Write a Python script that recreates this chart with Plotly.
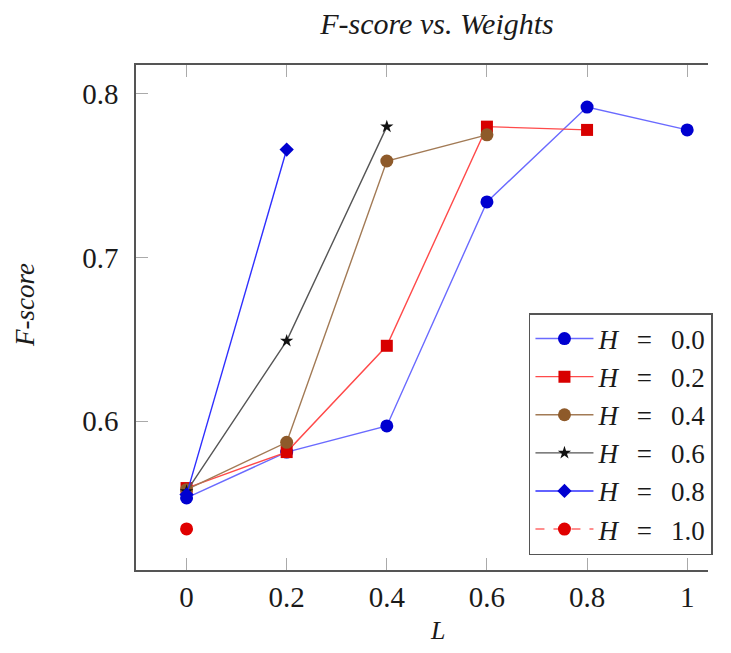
import plotly.graph_objects as go

# Data
L_h00 = [0, 0.2, 0.4, 0.6, 0.8, 1.0]
F_h00 = [0.553, 0.581, 0.597, 0.734, 0.792, 0.778]

L_h02 = [0, 0.2, 0.4, 0.6, 0.8]
F_h02 = [0.559, 0.581, 0.646, 0.780, 0.778]

L_h04 = [0, 0.2, 0.4, 0.6]
F_h04 = [0.558, 0.587, 0.759, 0.775]

L_h06 = [0, 0.2, 0.4]
F_h06 = [0.557, 0.649, 0.780]

L_h08 = [0, 0.2]
F_h08 = [0.555, 0.766]

L_h10 = [0]
F_h10 = [0.534]

SP = "\u2002\u2009"
series_names = [f"<i>H</i>{SP}={SP}0.0", f"<i>H</i>{SP}={SP}0.2", f"<i>H</i>{SP}={SP}0.4",
                f"<i>H</i>{SP}={SP}0.6", f"<i>H</i>{SP}={SP}0.8", f"<i>H</i>{SP}={SP}1.0"]

x_ticks = [0, 0.2, 0.4, 0.6, 0.8, 1.0]
x_tick_labels = ["0", "0.2", "0.4", "0.6", "0.8", "1"]
y_ticks = [0.6, 0.7, 0.8]
y_tick_labels = ["0.6", "0.7", "0.8"]

SERIF = "Liberation Serif"

# page offset (body margin) of the rendered html; keep the page inside the window
OFF = 8
W, H = 731 - 2 * OFF - 4, 653 - 2 * OFF - 1
PL, PT, PR, PB = 136 - OFF, 65 - OFF, W - 6, 570 - OFF  # plot area in figure px
PW, PH = PR - PL, PB - PT

def px_x(ax):  # absolute px -> paper x
    return (ax - OFF - PL) / PW

def px_y(ay):  # absolute px -> paper y
    return (PB - (ay - OFF)) / PH

X0_PX, X_PER_UNIT = 187, 505  # where L=0 sits, px per unit L
x_lo = (136 - X0_PX) / X_PER_UNIT
x_hi = (PR + OFF - X0_PX) / X_PER_UNIT

fig = go.Figure()

styles = [
    (L_h00, F_h00, dict(color="#6a6aff", width=1.4, dash="solid"), dict(symbol="circle", size=13, color="#0000d0")),
    (L_h02, F_h02, dict(color="#ff4a4a", width=1.4, dash="solid"), dict(symbol="square", size=12, color="#d80000")),
    (L_h04, F_h04, dict(color="#a27a55", width=1.4, dash="solid"), dict(symbol="circle", size=13, color="#8e5a2a")),
    (L_h06, F_h06, dict(color="#555555", width=1.4, dash="solid"), dict(symbol="star", size=10, color="#111111")),
    (L_h08, F_h08, dict(color="#2e2eff", width=1.4, dash="solid"), dict(symbol="diamond", size=11, color="#0000d0")),
    (L_h10, F_h10, dict(color="#ff6a6a", width=1.4, dash="dash"), dict(symbol="circle", size=13, color="#e00000")),
]

for (xs, ys, line, marker), name in zip(styles, series_names):
    fig.add_trace(go.Scatter(x=xs, y=ys, mode="lines+markers", name=name,
                             line=line, marker=dict(line=dict(width=0), **marker)))

fig.update_layout(
    width=W, height=H, autosize=False,
    margin=dict(l=PL, r=W - PR, t=PT, b=H - PB, pad=0),
    paper_bgcolor="white", plot_bgcolor="white",
    font=dict(family=SERIF, size=29, color="#1a1a1a"),
    title=dict(text="<i>F-score vs. Weights</i>", x=(437 - OFF) / W, xanchor="center",
               y=1 - (23 - OFF) / H, yanchor="middle",
               font=dict(family=SERIF, size=30, color="#1a1a1a")),
    showlegend=True,
    legend=dict(x=px_x(W + OFF - 1), xanchor="right", y=px_y(313), yanchor="top",
                bordercolor="#555555", borderwidth=1.5, bgcolor="white",
                font=dict(family=SERIF, size=27, color="#1a1a1a"),
                itemwidth=58, tracegroupgap=0),
)

fig.update_xaxes(
    range=[x_lo, x_hi], tickvals=x_ticks, ticktext=x_tick_labels,
    showgrid=False, zeroline=False, showline=True, linecolor="#555555", linewidth=1.5,
    mirror="ticks", ticks="inside", ticklen=12, tickcolor="#aaaaaa", tickwidth=1,
    tickfont=dict(family=SERIF, size=29, color="#1a1a1a"),
)
fig.update_yaxes(
    range=[0.5089, 0.8177], tickvals=y_ticks, ticktext=y_tick_labels,
    showgrid=False, zeroline=False, showline=True, linecolor="#555555", linewidth=1.5,
    mirror=False, ticks="inside", ticklen=12, tickcolor="#aaaaaa", tickwidth=1,
    ticklabelstandoff=10,
    tickfont=dict(family=SERIF, size=29, color="#1a1a1a"),
)

fig.add_annotation(text="<i>F-score</i>", xref="paper", yref="paper",
                   x=px_x(24), y=px_y(305), textangle=-90,
                   showarrow=False, font=dict(family=SERIF, size=27, color="#1a1a1a"),
                   xanchor="center", yanchor="middle")
fig.add_annotation(text="<i>L</i>", xref="paper", yref="paper",
                   x=px_x(440), y=px_y(630),
                   showarrow=False, font=dict(family=SERIF, size=26, color="#1a1a1a"),
                   xanchor="center", yanchor="middle")

fig.write_html("out.html")
